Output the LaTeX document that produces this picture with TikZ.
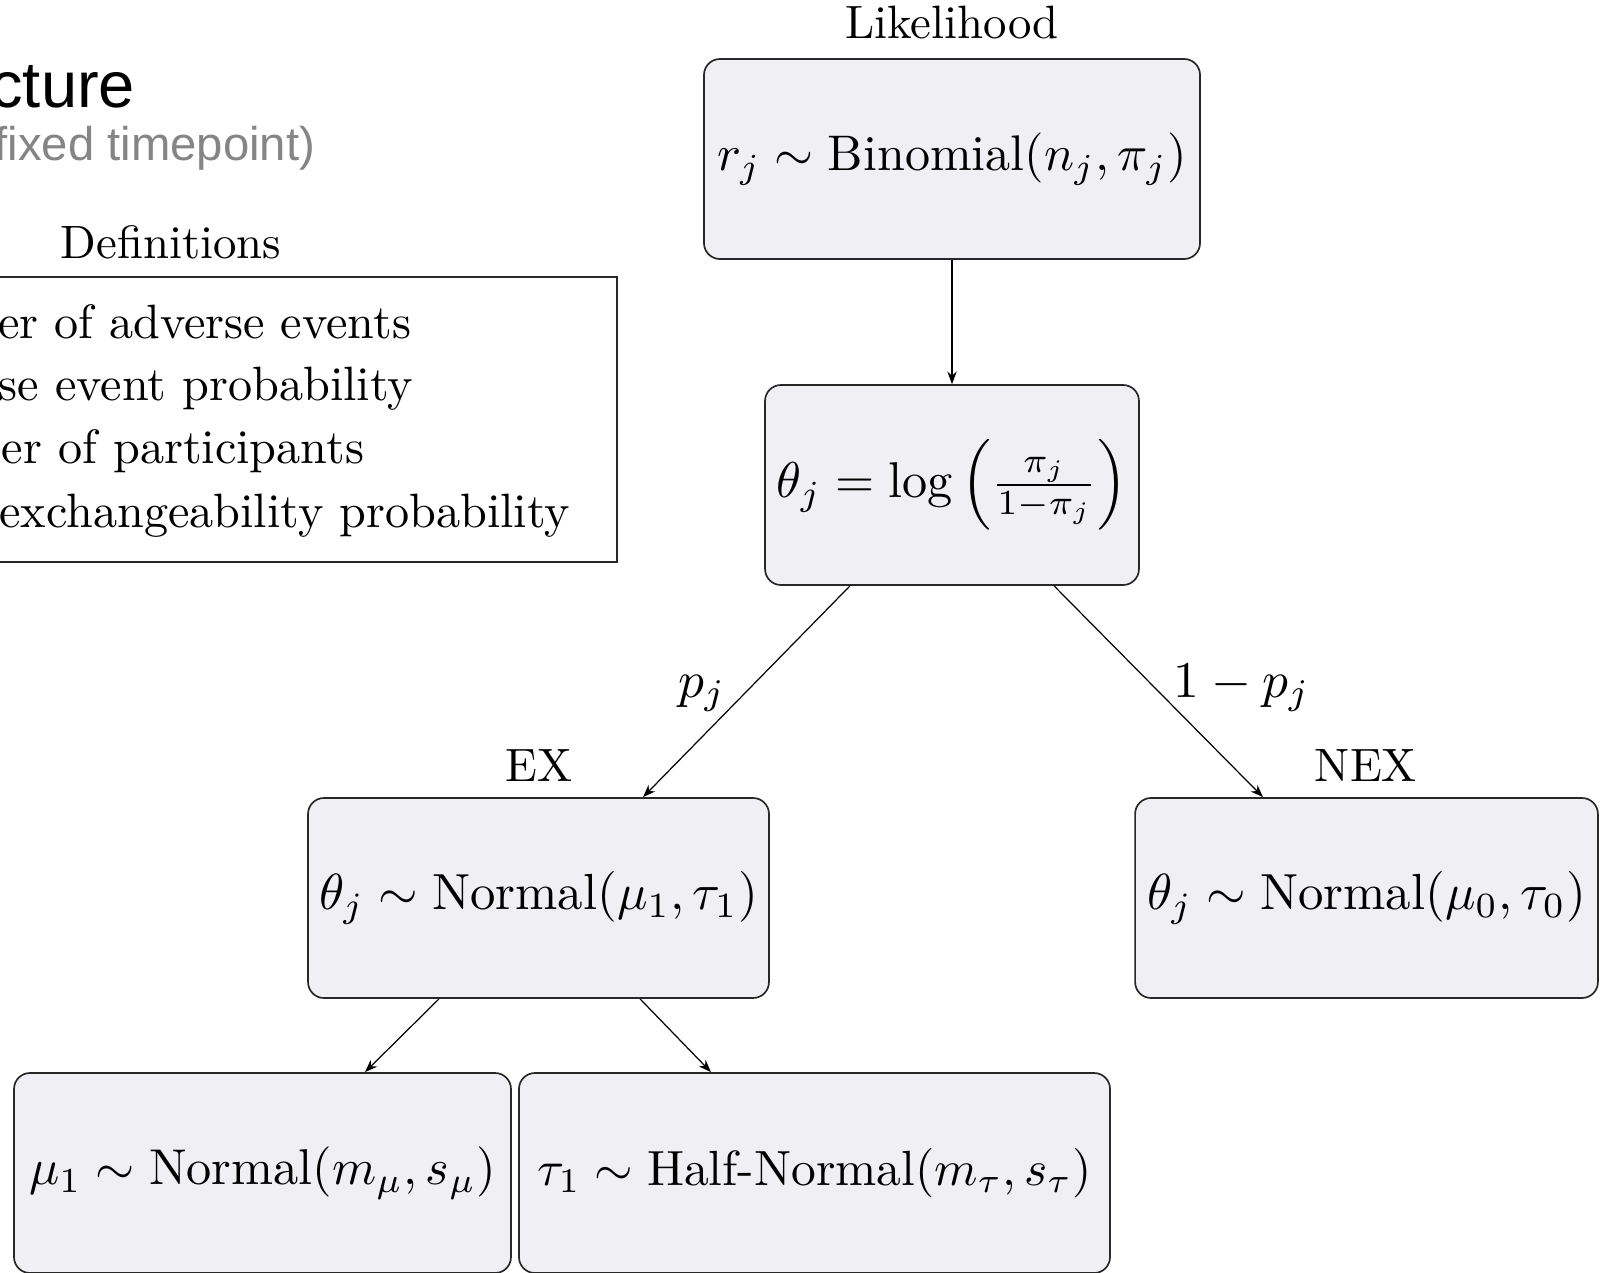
\documentclass[tikz,border=0pt]{standalone}
\usepackage{amsmath}
\usepackage{graphicx}
\usepackage{fontspec}
\newfontfamily\headsans{Liberation Sans}
\usetikzlibrary{arrows.meta}
\definecolor{boxfill}{RGB}{239,239,244}
\definecolor{boxline}{RGB}{40,40,40}
\definecolor{subgray}{RGB}{133,133,133}
% enlarged math for the model boxes and edge weights
\newcommand{\boxmath}[2]{\scalebox{#1}{$#2$}}

\begin{document}
\begin{tikzpicture}[x=0.2137pt,y=-0.2137pt,
  model/.style={draw=boxline, line width=0.36pt, fill=boxfill, rounded corners=3.4pt,
    minimum height=42.74pt, inner xsep=0.5pt, inner ysep=0pt, align=center},
  link/.style={-{Stealth[length=2.7pt,width=2pt]}, line width=0.26pt},
  deftext/.style={anchor=base east, inner sep=0pt, font=\fontsize{10.3}{12.4}\selectfont},
  tag/.style={anchor=base, inner sep=0pt}]
\useasboundingbox (0,0) rectangle (1600,1272);

% page heading (runs off the left edge)
\node[anchor=base east, inner sep=0pt, font=\headsans\fontsize{13.9}{16}\selectfont] (title) at (136,107) {cture};
\node[anchor=base east, inner sep=0pt, text=subgray, font=\headsans\fontsize{10.1}{12}\selectfont] (sub) at (316,160) {fixed timepoint)};

% definitions panel
\node[tag] (defslab) at (171,258) {Definitions};
\node[draw=boxline, line width=0.28pt, minimum width=153.2pt, minimum height=60.9pt, inner sep=0pt] (defs) at (258.5,419.5) {};
\node[deftext] (d1) at (412,338) {er of adverse events};
\node[deftext] (d2) at (414,400) {se event probability};
\node[deftext] (d3) at (365,463) {er of participants};
\node[deftext] (d4) at (571,527) {exchangeability probability};

% model hierarchy
\node[tag] (liklab) at (952,39) {Likelihood};
\node[model, minimum width=106pt] (lik) at (952,159) {\boxmath{1.07}{r_j \sim \mathrm{Binomial}(n_j,\pi_j)}};
\node[model, minimum width=79.9pt] (logit) at (952,485) {\boxmath{1.075}{\theta_j = \log\left(\frac{\pi_j}{1-\pi_j}\right)}};
\node[tag] (exlab) at (539,781) {EX};
\node[tag] (nexlab) at (1366,781) {NEX};
\node[model, minimum width=98.5pt] (ex) at (538.5,898) {\boxmath{1.085}{\theta_j \sim \mathrm{Normal}(\mu_1,\tau_1)}};
\node[model, minimum width=98.9pt] (nex) at (1366.5,898) {\boxmath{1.085}{\theta_j \sim \mathrm{Normal}(\mu_0,\tau_0)}};
\node[model, minimum width=106.2pt] (mu) at (262.5,1173) {\boxmath{1.075}{\mu_1 \sim \mathrm{Normal}(m_\mu,s_\mu)}};
\node[model, minimum width=126.3pt] (tau) at (814.5,1173) {\boxmath{1.057}{\tau_1 \sim \text{Half-Normal}(m_\tau,s_\tau)}};

% edge weights
\node[tag] (pj) at (702,697) {\boxmath{1.1}{p_j}};
\node[tag] (qj) at (1242,697) {\boxmath{1.1}{1-p_j}};

% connectors
\draw[link] (lik.south) -- (logit.north);
\draw[link] ([xshift=-21.8pt]logit.south) -- ([xshift=22.33pt]ex.north);
\draw[link] ([xshift=21.8pt]logit.south) -- ([xshift=-22.12pt]nex.north);
\draw[link] ([xshift=-21.26pt]ex.south) -- ([xshift=21.9pt]mu.north);
\draw[link] ([xshift=21.69pt]ex.south) -- ([xshift=-22.12pt]tau.north);
\end{tikzpicture}
\end{document}
